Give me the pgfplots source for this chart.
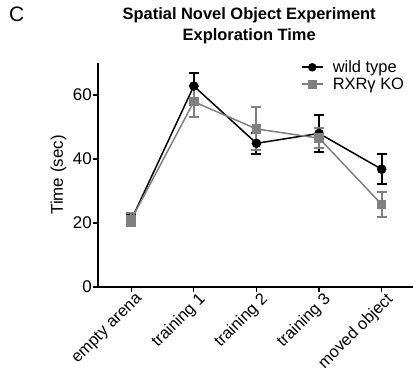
\documentclass[border=0pt]{standalone}
\usepackage{pgfplots}
\pgfplotsset{compat=1.18}
\usepackage{fontspec}
\setmainfont{Liberation Sans}
\definecolor{kogray}{RGB}{128,128,128}
\begin{document}
\begin{tikzpicture}
\useasboundingbox (-98bp,-98bp) rectangle (315bp,287bp);
\begin{axis}[
  scale only axis, width=315bp, height=224bp,
  xmin=-0.53, xmax=4.5, ymin=0, ymax=70,
  axis x line*=bottom, axis y line*=left,
  axis line style={line width=1.7bp,-},
  every tick/.style={line width=1.3bp, black},
  tick align=outside, major tick length=5bp,
  xtick={0,1,2,3,4},
  xticklabels={empty arena,training 1,training 2,training 3,moved object},
  x tick label style={rotate=45, anchor=north east, font=\fontsize{16.5}{18}\selectfont, inner sep=1bp, xshift=4bp, yshift=-1bp},
  ytick={0,20,40,60},
  y tick label style={font=\fontsize{17}{18}\selectfont, inner sep=1bp},
  /pgf/number format/assume math mode=true,
  ylabel={Time (sec)},
  every axis y label/.style={at={(ticklabel cs:0.5)}, rotate=90, anchor=south, yshift=2bp, font=\fontsize{17}{18}\selectfont},
  title={\bfseries Spatial Novel Object Experiment\\ \bfseries Exploration Time},
  title style={align=center, font=\fontsize{16.5}{21}\selectfont, at={(0.48,1.0)}, anchor=south, yshift=10bp},
  legend style={draw=none, fill=none, at={(0.64,1.025)}, anchor=north west, font=\fontsize{16.5}{19}\selectfont, row sep=0bp, inner sep=1bp,
    /tikz/every odd column/.append style={column sep=7bp}},
  legend image code/.code={\draw[mark repeat=2, mark phase=2, #1, line width=2bp, mark size=3.2bp] plot coordinates {(0bp,0bp) (10.5bp,0bp) (21bp,0bp)};},
  legend cell align=left,
  clip=false,
]
\addplot[black, line width=1.5bp, mark=*, mark size=4bp,
  error bars/.cd, y dir=both, y explicit,
  error bar style={line width=2bp, black},
  error mark options={rotate=90, mark size=5bp, line width=2bp, black}]
  coordinates {
  (0,20.9) +- (0,1.9)
  (1,62.8) +- (0,4.0)
  (2,44.9) +- (0,3.3)
  (3,48.0) +- (0,5.7)
  (4,36.8) +- (0,4.7)
  };
\addlegendentry{wild type}
\addplot[kogray, line width=1.5bp, mark=square*, mark size=4bp,
  error bars/.cd, y dir=both, y explicit,
  error bar style={line width=2bp, kogray},
  error mark options={rotate=90, mark size=5bp, line width=2bp, kogray}]
  coordinates {
  (0,21.0) +- (0,2.0)
  (1,57.9) +- (0,4.8)
  (2,49.4) +- (0,6.7)
  (3,46.5) +- (0,3.2)
  (4,25.8) +- (0,4.0)
  };
\addlegendentry{RXRγ KO}
\end{axis}
\node[anchor=north west, font=\fontsize{21}{22}\selectfont, inner sep=0pt] at (-89bp,280bp) {C};
\end{tikzpicture}
\end{document}
